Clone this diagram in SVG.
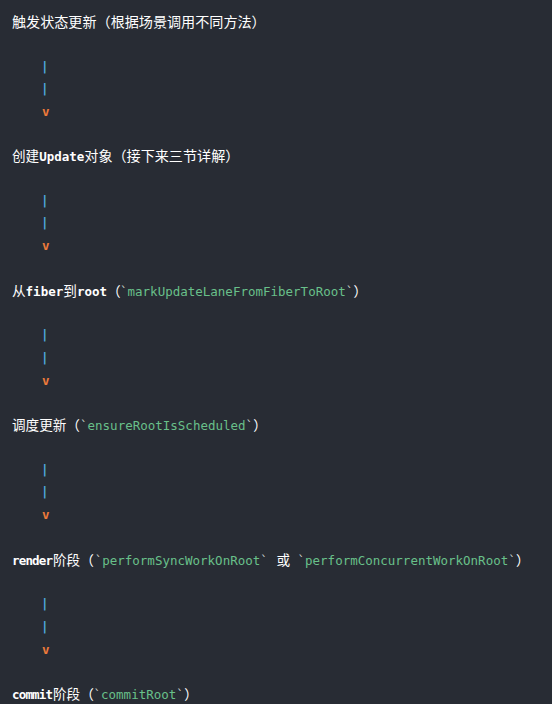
<svg xmlns="http://www.w3.org/2000/svg" width="552" height="704" viewBox="0 0 552 704">
<style>
.t{font-family:"DejaVu Sans Mono","Liberation Mono",monospace;font-size:12.5px;fill:#ffffff}
.cjk{font-family:"Noto Sans CJK SC","Noto Sans",sans-serif;font-size:13.6px;fill:#ffffff}
.big{font-size:14.1px}
.b{font-weight:bold;fill:#ffffff}
.code{fill:#69c08a}
.tick{fill:#c9d1cc}
.pipe{font-family:"DejaVu Sans Mono","Liberation Mono",monospace;font-size:12.5px;fill:#4fa9dc;text-anchor:middle;font-weight:bold}
.arr{font-family:"DejaVu Sans Mono","Liberation Mono",monospace;font-size:12.5px;fill:#ec7a3a;text-anchor:middle;font-weight:bold}
</style>
<rect width="552" height="704" fill="#282c34"/>
<g id="step1">
<text class="cjk big" x="12" y="27">触发状态更新（根据场景调用不同方法）</text>
</g>
<g id="step2">
<text class="t" y="161.4"><tspan class="cjk" x="12">创建</tspan><tspan class="b" x="39.3" textLength="45" lengthAdjust="spacing">Update</tspan><tspan class="cjk big" x="84.3">对象（接下来三节详解）</tspan></text>
</g>
<g id="step3">
<text class="t" y="295.8"><tspan class="cjk" x="12">从</tspan><tspan class="b" x="25.6">fiber</tspan><tspan class="cjk" x="63.3">到</tspan><tspan class="b" x="76.9">root</tspan><tspan class="cjk" x="107">（</tspan><tspan class="tick" x="120">`</tspan><tspan class="code">markUpdateLaneFromFiberToRoot</tspan><tspan class="tick">`</tspan><tspan class="cjk" x="353.4">）</tspan></text>
</g>
<g id="step4">
<text class="t" y="430.2"><tspan class="cjk" x="12">调度更新（</tspan><tspan class="tick" x="80">`</tspan><tspan class="code">ensureRootIsScheduled</tspan><tspan class="tick">`</tspan><tspan class="cjk" x="253.2">）</tspan></text>
</g>
<g id="step5">
<text class="t" y="564.6"><tspan class="b" x="12" textLength="41" lengthAdjust="spacing">render</tspan><tspan class="cjk" x="53">阶段（</tspan><tspan class="tick" x="94.7">`</tspan><tspan class="code">performSyncWorkOnRoot</tspan><tspan class="tick">`</tspan><tspan class="cjk" x="276.5">或</tspan><tspan class="tick" x="297.5">`</tspan><tspan class="code">performConcurrentWorkOnRoot</tspan><tspan class="tick">`</tspan><tspan class="cjk" x="516">）</tspan></text>
</g>
<g id="step6">
<text class="t" y="699"><tspan class="b" x="12" textLength="41" lengthAdjust="spacing">commit</tspan><tspan class="cjk" x="53">阶段（</tspan><tspan class="tick" x="93.5">`</tspan><tspan class="code">commitRoot</tspan><tspan class="tick">`</tspan><tspan class="cjk" x="184.2">）</tspan></text>
</g>
<g id="connectors">
<text class="pipe" x="44.8" y="70.5">|</text><text class="pipe" x="44.8" y="93">|</text><text class="arr" x="45.7" y="116">v</text>
<text class="pipe" x="44.8" y="204.9">|</text><text class="pipe" x="44.8" y="227.4">|</text><text class="arr" x="45.7" y="250.4">v</text>
<text class="pipe" x="44.8" y="339.3">|</text><text class="pipe" x="44.8" y="361.8">|</text><text class="arr" x="45.7" y="384.8">v</text>
<text class="pipe" x="44.8" y="473.7">|</text><text class="pipe" x="44.8" y="496.2">|</text><text class="arr" x="45.7" y="519.2">v</text>
<text class="pipe" x="44.8" y="608.1">|</text><text class="pipe" x="44.8" y="630.6">|</text><text class="arr" x="45.7" y="653.6">v</text>
</g>
</svg>
